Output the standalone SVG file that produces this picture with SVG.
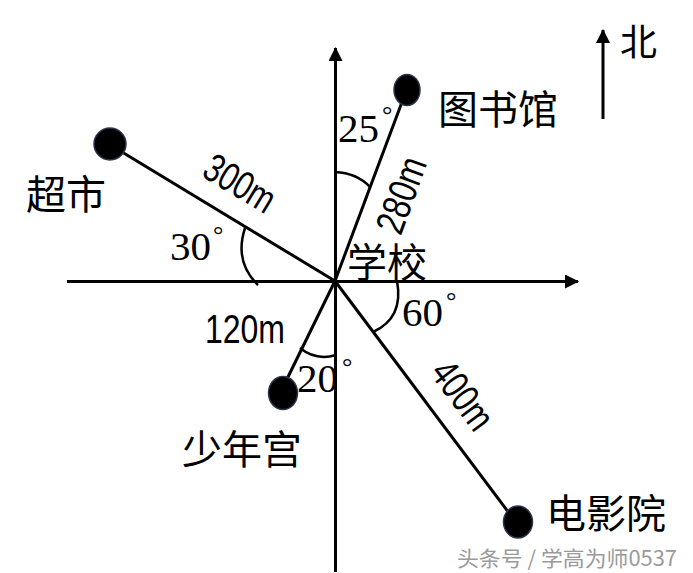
<svg xmlns="http://www.w3.org/2000/svg" width="693" height="573" viewBox="0 0 693 573">
<style>
.ax{stroke:#000;stroke-width:3;fill:none}
.ln{stroke:#000;stroke-width:3;fill:none}
.arc{stroke:#000;stroke-width:2.5;fill:none}
.dot{fill:#000;stroke:#2c3550;stroke-width:1.5}
.cjk{font-family:"Noto Sans CJK SC","Noto Sans",sans-serif;font-size:40px;fill:#000}
.len{font-family:"Liberation Sans","DejaVu Sans",sans-serif;font-size:40px;fill:#000}
.deg{font-family:"Liberation Serif","DejaVu Serif",serif;font-size:41px;fill:#000}
.ds{font-family:"Liberation Serif","DejaVu Serif",serif;font-size:26px;fill:#000}
.wm{font-family:"Noto Sans CJK SC","Noto Sans",sans-serif;font-size:21px;fill:#9a9a9a}
</style>
<defs>
<marker id="ah" viewBox="0 0 14 14" refX="13" refY="7" markerWidth="14" markerHeight="14" markerUnits="userSpaceOnUse" orient="auto">
<path d="M0,0 L14,7 L0,14 Z" fill="#000"/>
</marker>
</defs>
<g id="connectors">
<line class="ax" x1="67" y1="281.5" x2="578" y2="281.5" marker-end="url(#ah)"/>
<line class="ax" x1="335.5" y1="572" x2="335.5" y2="48" marker-end="url(#ah)"/>
<line class="ln" x1="335" y1="281" x2="402" y2="102"/>
<line class="ln" x1="335" y1="281" x2="122" y2="152"/>
<line class="ln" x1="335" y1="281" x2="287" y2="379"/>
<line class="ln" x1="335" y1="281" x2="509" y2="513"/>
<line class="ax" x1="603" y1="119" x2="603" y2="30" marker-end="url(#ah)"/>
</g>
<g id="angles">
<path class="arc" d="M335,172 Q357,173 370,187"/>
<path class="arc" d="M245,228 Q234,262 258,285"/>
<path class="arc" d="M397,281 Q404,318 373,332"/>
<path class="arc" d="M300,348 Q316,361 336,355"/>
</g>
<g id="library">
<ellipse class="dot" cx="407" cy="90" rx="13" ry="15.5"/>
<text class="cjk" x="438" y="124">图书馆</text>
</g>
<g id="supermarket">
<ellipse class="dot" cx="110" cy="144" rx="16" ry="16"/>
<text class="cjk" x="26" y="209">超市</text>
</g>
<g id="school">
<text class="cjk" x="347" y="277">学校</text>
</g>
<g id="youth-palace">
<ellipse class="dot" cx="283" cy="393" rx="14.5" ry="16.5"/>
<text class="cjk" x="182" y="464">少年宫</text>
</g>
<g id="cinema">
<ellipse class="dot" cx="518" cy="522" rx="14.5" ry="16"/>
<text class="cjk" x="546" y="528">电影院</text>
</g>
<g id="north">
<text class="cjk" x="620" y="56" style="font-size:37px">北</text>
</g>
<g id="labels">
<text class="len" transform="translate(240,183) rotate(31)" x="0" y="14" text-anchor="middle" textLength="76" lengthAdjust="spacingAndGlyphs">300m</text>
<text class="len" transform="translate(401,195) rotate(-70)" x="0" y="14" text-anchor="middle" textLength="78" lengthAdjust="spacingAndGlyphs">280m</text>
<text class="len" transform="translate(463,395) rotate(53)" x="0" y="14" text-anchor="middle" textLength="76" lengthAdjust="spacingAndGlyphs">400m</text>
<text class="len" x="205" y="343" textLength="80" lengthAdjust="spacingAndGlyphs">120m</text>
<text class="deg" x="338" y="142">25</text>
<text class="ds" x="382" y="123">°</text>
<text class="deg" x="170" y="260">30</text>
<text class="ds" x="213" y="243">°</text>
<text class="deg" x="402" y="326">60</text>
<text class="ds" x="446" y="309">°</text>
<text class="deg" x="297" y="392">20</text>
<text class="ds" x="342" y="375">°</text>
<text class="wm" x="457" y="566" textLength="220" lengthAdjust="spacingAndGlyphs">头条号 / 学高为师0537</text>
</g>
</svg>
